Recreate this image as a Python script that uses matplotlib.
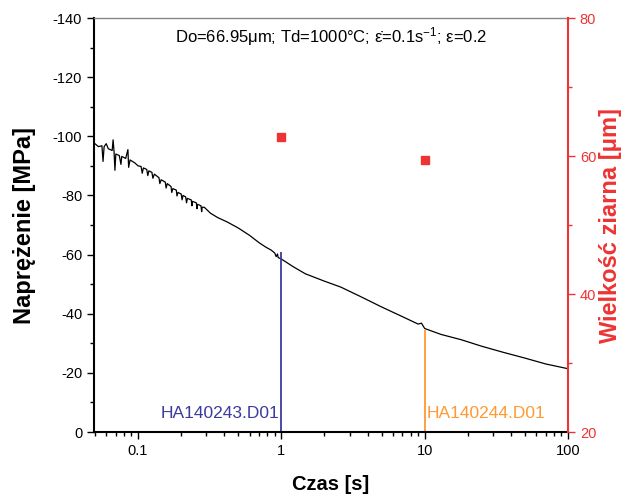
import matplotlib
matplotlib.use("Agg")
import matplotlib.pyplot as plt
from matplotlib.ticker import FixedLocator, NullFormatter, LogLocator, MultipleLocator

plt.rcParams['font.family'] = ['Liberation Sans', 'DejaVu Sans']
plt.rcParams['axes.unicode_minus'] = False
plt.rcParams['mathtext.default'] = 'regular'

# Stress curve (time [s], stress [MPa])
time_s = [0.050, 0.053, 0.056, 0.057, 0.058, 0.060, 0.062, 0.066, 0.067, 0.068, 0.069,
          0.070, 0.074, 0.076, 0.077, 0.082, 0.085, 0.086, 0.088, 0.095, 0.100,
          0.105, 0.107, 0.109, 0.115, 0.117, 0.119, 0.125, 0.127, 0.130,
          0.140, 0.142, 0.145, 0.155, 0.157, 0.160, 0.170, 0.172, 0.175,
          0.185, 0.187, 0.190, 0.200, 0.203, 0.206, 0.215, 0.218, 0.221,
          0.235, 0.238, 0.240, 0.255, 0.258, 0.260, 0.275, 0.278, 0.280,
          0.290, 0.320, 0.360, 0.420, 0.500, 0.600, 0.700, 0.780, 0.850,
          0.900, 0.920, 0.940, 0.950, 1.000, 1.200, 1.470, 2.000, 2.600,
          3.500, 5.000, 7.000, 9.000, 9.500, 10.00, 13.00, 18.00, 25.00,
          35.00, 50.00, 70.00, 100.0]
stress_mpa = [-97.5, -96.5, -96.8, -91.5, -96.5, -97.5, -95.8, -95.2, -98.8, -95.0, -88.5,
              -94.0, -93.5, -90.5, -93.2, -92.5, -95.5, -89.5, -92.0, -91.0, -90.0,
              -89.8, -87.5, -89.3, -88.8, -86.7, -88.3, -87.8, -85.8, -87.2,
              -86.0, -84.0, -85.3, -84.5, -82.5, -84.0, -83.0, -81.0, -82.3,
              -81.8, -79.8, -81.0, -80.5, -78.5, -80.0, -79.5, -77.5, -79.0,
              -78.5, -76.5, -78.0, -77.5, -75.5, -77.0, -76.5, -74.5, -76.0,
              -76.0, -74.0, -72.5, -71.0, -69.0, -66.5, -64.0, -62.5, -61.5,
              -60.5, -59.3, -60.2, -59.0, -58.5, -56.0, -53.5, -51.0, -49.0,
              -46.0, -42.3, -39.0, -36.5, -36.8, -35.0, -33.0, -31.2, -29.0,
              -27.0, -25.0, -23.0, -21.4]

# Sample markers
sample_times = [1, 10]
sample_names = ["HA140243.D01", "HA140244.D01"]
sample_stress = [-60.9, -34.6]
sample_colors = ["#3b3b9e", "#ff9933"]

# Grain size (right axis)
grain_times = [1, 10]
grain_size = [62.8, 59.4]

fig = plt.figure(figsize=(6.29, 4.96), dpi=100)
ax = fig.add_axes([94/629, 1-432/496, (568-94)/629, (432-18)/496])

ax.plot(time_s, stress_mpa, color='black', lw=0.9)

for t, s, c in zip(sample_times, sample_stress, sample_colors):
    ax.vlines(t, 0, s, color=c, lw=1.3)
for t, c, name, ha, dx in zip(sample_times, sample_colors, sample_names, ['right', 'left'], [0.975, 1.03]):
    ax.text(t*dx, -6.4, name, color=c, ha=ha, va='center', fontsize=12.5)

ax.set_xscale('log')
ax.set_xlim(0.0493, 100)
ax.set_ylim(0, -140)
ax.yaxis.set_major_locator(MultipleLocator(20))
ax.yaxis.set_minor_locator(MultipleLocator(10))
ax.xaxis.set_major_locator(FixedLocator([0.1, 1, 10, 100]))
ax.set_xticklabels(["0.1", "1", "10", "100"])
ax.xaxis.set_minor_locator(LogLocator(base=10, subs=range(2, 10)))
ax.xaxis.set_minor_formatter(NullFormatter())
ax.tick_params(axis='both', which='major', direction='out', length=5, width=1, labelsize=10.5)
ax.tick_params(axis='both', which='minor', direction='out', length=3, width=1)
ax.spines['left'].set_linewidth(1.5)
ax.spines['bottom'].set_linewidth(1.5)
ax.spines['top'].set_color('#888888')
ax.spines['top'].set_linewidth(1.0)
ax.spines['right'].set_visible(False)

ax.set_xlabel("Czas [s]", fontsize=14.5, fontweight='bold')
ax.xaxis.set_label_coords(0.5, -(485-432)/414, transform=ax.transAxes)
ax.xaxis.label.set_va('center')
ax.set_ylabel("Naprężenie [MPa]", fontsize=17, fontweight='bold')
ax.yaxis.set_label_coords(-(94-25)/474, 0.5, transform=ax.transAxes)
ax.yaxis.label.set_va('center')

ax.text(0.5, 0.955, "Do=66.95μm; Td=1000°C; ε\u0307=0.1s$^{-1}$; ε=0.2",
        transform=ax.transAxes, ha='center', va='center', fontsize=12)

red = '#ee3333'
ax2 = ax.twinx()
ax2.plot(grain_times, grain_size, 's', color=red, markersize=6, linestyle='none')
ax2.set_ylim(20, 80)
ax2.yaxis.set_major_locator(MultipleLocator(20))
ax2.yaxis.set_minor_locator(MultipleLocator(10))
ax2.tick_params(axis='y', which='major', direction='out', length=5, width=1, colors=red, labelsize=10.5)
ax2.tick_params(axis='y', which='minor', direction='out', length=3, width=1, colors=red)
for s in ['left', 'top', 'bottom']:
    ax2.spines[s].set_visible(False)
ax2.spines['right'].set_color(red)
ax2.spines['right'].set_linewidth(1.5)
ax2.set_ylabel("Wielkość ziarna [μm]", fontsize=17, fontweight='bold', color=red)
ax2.yaxis.set_label_coords(1 + (610-568)/474, 0.5, transform=ax2.transAxes)
ax2.yaxis.label.set_va('center')

fig.savefig("out.png", dpi=100)
